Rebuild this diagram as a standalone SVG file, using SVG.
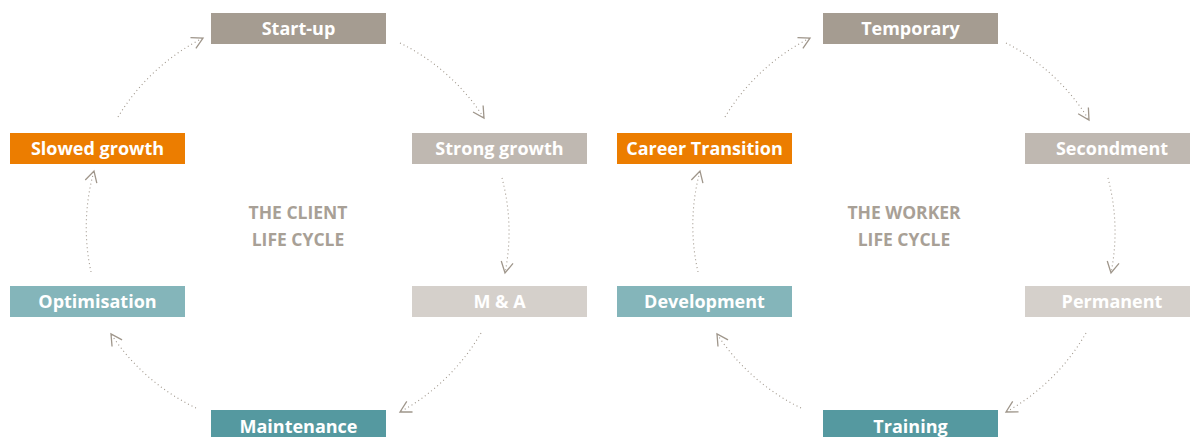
<svg xmlns="http://www.w3.org/2000/svg" width="1190" height="437" viewBox="0 0 1190 437">
<style>
.lbl{font-family:"Open Sans","Liberation Sans",sans-serif;font-weight:700;font-size:18px;fill:#ffffff;text-anchor:middle}
.title{font-family:"Open Sans","Liberation Sans",sans-serif;font-weight:700;font-size:17.5px;fill:#a8a096;text-anchor:middle}
.c1{fill:#a59c91}.c2{fill:#bfb8b1}.c3{fill:#d5d0cb}.c4{fill:#ec7d00}.c5{fill:#84b5ba}.c6{fill:#5599a0}
.con{fill:none;stroke:#9f968b;stroke-width:1.1;stroke-dasharray:1 3;marker-end:url(#ah)}
</style>
<defs>
<marker id="ah" viewBox="0 0 14 14" refX="12" refY="7" markerWidth="14" markerHeight="14" markerUnits="userSpaceOnUse" orient="auto">
<path d="M1,1 L12,7 L1,13" fill="none" stroke="#9f968b" stroke-width="1.3"/>
</marker>
</defs>
<rect width="1190" height="437" fill="#ffffff"/>
<g id="connectors">
<path class="con" d="M118,117 A210,210 0 0 1 203,38"/>
<path class="con" d="M400,43 A210,210 0 0 1 484,118"/>
<path class="con" d="M502,178 A210,210 0 0 1 505,273"/>
<path class="con" d="M481,333 A210,210 0 0 1 400,412"/>
<path class="con" d="M196,408 A210,210 0 0 1 111,334"/>
<path class="con" d="M91,272 A210,210 0 0 1 94,171"/>
<path class="con" d="M725,117 A210,210 0 0 1 810,38"/>
<path class="con" d="M1006,43 A210,210 0 0 1 1089,120"/>
<path class="con" d="M1108,178 A210,210 0 0 1 1111,273"/>
<path class="con" d="M1086,333 A210,210 0 0 1 1006,412"/>
<path class="con" d="M801,408 A210,210 0 0 1 717,334"/>
<path class="con" d="M698,272 A210,210 0 0 1 700,171"/>
</g>
<g id="client-title"><text class="title" x="298" y="219">THE CLIENT</text><text class="title" x="298" y="246">LIFE CYCLE</text></g>
<g id="worker-title"><text class="title" x="904" y="219">THE WORKER</text><text class="title" x="904" y="246">LIFE CYCLE</text></g>
<g id="startup"><rect class="c1" x="211" y="13" width="175" height="31"/><text class="lbl" x="298.5" y="35">Start-up</text></g>
<g id="strong-growth"><rect class="c2" x="412" y="133" width="175" height="31"/><text class="lbl" x="499.5" y="155">Strong growth</text></g>
<g id="ma"><rect class="c3" x="412" y="286" width="175" height="31"/><text class="lbl" x="499.5" y="308">M &amp; A</text></g>
<g id="maintenance"><rect class="c6" x="211" y="410" width="175" height="31"/><text class="lbl" x="298.5" y="433">Maintenance</text></g>
<g id="optimisation"><rect class="c5" x="10" y="286" width="175" height="31"/><text class="lbl" x="97.5" y="308">Optimisation</text></g>
<g id="slowed-growth"><rect class="c4" x="10" y="133" width="175" height="31"/><text class="lbl" x="97.5" y="155">Slowed growth</text></g>
<g id="temporary"><rect class="c1" x="823" y="13" width="175" height="31"/><text class="lbl" x="910.5" y="35">Temporary</text></g>
<g id="secondment"><rect class="c2" x="1025" y="133" width="175" height="31"/><text class="lbl" x="1112" y="155">Secondment</text></g>
<g id="permanent"><rect class="c3" x="1025" y="286" width="175" height="31"/><text class="lbl" x="1112" y="308">Permanent</text></g>
<g id="training"><rect class="c6" x="823" y="410" width="175" height="31"/><text class="lbl" x="910.5" y="433">Training</text></g>
<g id="development"><rect class="c5" x="617" y="286" width="175" height="31"/><text class="lbl" x="704.5" y="308">Development</text></g>
<g id="career-transition"><rect class="c4" x="617" y="133" width="175" height="31"/><text class="lbl" x="704.5" y="155">Career Transition</text></g>
</svg>
